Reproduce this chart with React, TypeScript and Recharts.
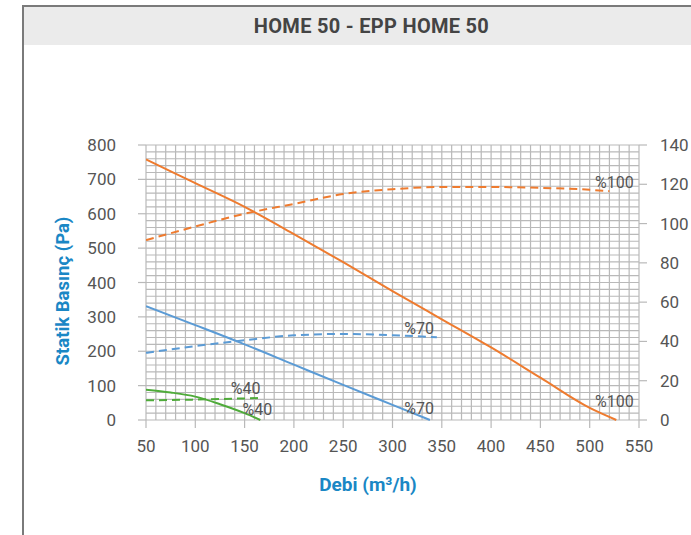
import React from 'react';
import { ComposedChart, Line, XAxis, YAxis, CartesianGrid, ReferenceDot } from 'recharts';

// Debi (m³/h) ticks
const xTicks = [50, 100, 150, 200, 250, 300, 350, 400, 450, 500, 550];
const leftTicks = [0, 100, 200, 300, 400, 500, 600, 700, 800];
const rightTicks = [0, 20, 40, 60, 80, 100, 120, 140];
const gridX = Array.from({ length: 51 }, (_, i) => 50 + i * 10);
const gridY = Array.from({ length: 41 }, (_, i) => i * 20);

// Pressure curves (left axis, Pa)
const press100 = [
  { x: 50, y: 758 }, { x: 100, y: 689 }, { x: 150, y: 620 }, { x: 200, y: 541 },
  { x: 250, y: 459 }, { x: 300, y: 375 }, { x: 350, y: 293 }, { x: 400, y: 211 },
  { x: 450, y: 123 }, { x: 500, y: 35 }, { x: 527, y: 0 },
];
const press70 = [
  { x: 50, y: 331 }, { x: 100, y: 276 }, { x: 150, y: 220 }, { x: 200, y: 161 },
  { x: 250, y: 102 }, { x: 300, y: 44 }, { x: 338, y: 0 },
];
const press40 = [
  { x: 50, y: 88 }, { x: 75, y: 80 }, { x: 100, y: 68 }, { x: 125, y: 46 },
  { x: 150, y: 20 }, { x: 166, y: 0 },
];

// Secondary curves (right axis)
const right100 = [
  { x: 50, y: 91.6 }, { x: 100, y: 98.5 }, { x: 150, y: 105 }, { x: 200, y: 110 },
  { x: 250, y: 115 }, { x: 300, y: 117.5 }, { x: 350, y: 118.6 }, { x: 400, y: 118.6 },
  { x: 450, y: 118.2 }, { x: 500, y: 117.2 }, { x: 520, y: 116.5 },
];
const right70 = [
  { x: 50, y: 34.2 }, { x: 100, y: 37.6 }, { x: 150, y: 40.6 }, { x: 200, y: 43.1 },
  { x: 250, y: 43.8 }, { x: 300, y: 43.2 }, { x: 345, y: 42.1 },
];
const right40 = [
  { x: 50, y: 10 }, { x: 100, y: 10.4 }, { x: 166, y: 11.2 },
];

// Curve labels (positioned in data units, left axis)
const curveLabels = [
  { x: 525, y: 692, text: '%100' },
  { x: 525, y: 55, text: '%100' },
  { x: 327, y: 268, text: '%70' },
  { x: 327, y: 35, text: '%70' },
  { x: 151, y: 93, text: '%40' },
  { x: 163, y: 32, text: '%40' },
];

const ORANGE = '#ee7b2f';
const BLUE = '#5b9bd5';
const GREEN = '#4fab3a';
const AXIS_BLUE = '#1a87c5';
const GRID = '#b9b9b9';
const TICK_FONT = "Roboto, 'DejaVu Sans', sans-serif";
const tickStyle = { fill: '#555', fontSize: 17, fontFamily: TICK_FONT };

const X_DOMAIN = [50, 550];
const Y_DOMAIN = [0, 800];

const vGen = (props: any) => {
  const s = props?.xAxis?.scale;
  if (typeof s === 'function') return gridX.map((v) => s(v));
  const o = props.offset;
  return gridX.map((v) => o.left + ((v - X_DOMAIN[0]) / (X_DOMAIN[1] - X_DOMAIN[0])) * o.width);
};
const hGen = (props: any) => {
  const s = props?.yAxis?.scale;
  if (typeof s === 'function') return gridY.map((v) => s(v));
  const o = props.offset;
  return gridY.map((v) => o.top + o.height - ((v - Y_DOMAIN[0]) / (Y_DOMAIN[1] - Y_DOMAIN[0])) * o.height);
};

export default function App() {
  return (
    <div style={{ position: 'absolute', left: 0, top: 0, width: 691, height: 535, background: '#fff', overflow: 'hidden' }}>
      <div style={{ position: 'absolute', left: 22, top: 5, width: 669, height: 530, borderLeft: '2px solid #7a7a7a', borderTop: '2px solid #7a7a7a', boxSizing: 'border-box' }} />
      <div style={{ position: 'absolute', left: 24, top: 7, width: 667, height: 38, background: '#ebebeb' }} />
      <div style={{ position: 'absolute', left: 24, top: 7, width: 695, height: 38, lineHeight: '38px', textAlign: 'center', fontFamily: TICK_FONT, fontWeight: 700, fontSize: 20, letterSpacing: 0.3, color: '#444' }}>
        HOME 50 - EPP HOME 50
      </div>
      <div style={{ position: 'absolute', left: 0, top: 0 }}>
        <ComposedChart width={691} height={535} margin={{ top: 145, right: 7, bottom: 85, left: 86 }}>
          <CartesianGrid
            xAxisId="x"
            yAxisId="left"
            stroke={GRID}
            strokeWidth={1.2}
            verticalCoordinatesGenerator={vGen}
            horizontalCoordinatesGenerator={hGen}
          />
          <XAxis
            xAxisId="x"
            type="number"
            dataKey="x"
            domain={X_DOMAIN}
            ticks={xTicks}
            allowDataOverflow
            axisLine={false}
            tickLine={{ stroke: GRID, strokeWidth: 1.2 }}
            tickSize={8}
            tickMargin={12}
            tick={tickStyle}
            height={30}
          />
          <YAxis
            yAxisId="left"
            type="number"
            domain={Y_DOMAIN}
            ticks={leftTicks}
            axisLine={false}
            tickLine={{ stroke: GRID, strokeWidth: 1.2 }}
            tickSize={8}
            tickMargin={22}
            tick={tickStyle}
            width={60}
          />
          <YAxis
            yAxisId="right"
            orientation="right"
            type="number"
            domain={[0, 140]}
            ticks={rightTicks}
            axisLine={false}
            tickLine={{ stroke: GRID, strokeWidth: 1.2 }}
            tickSize={8}
            tickMargin={13}
            tick={tickStyle}
            width={45}
          />
          <Line xAxisId="x" yAxisId="right" data={right100} dataKey="y" type="monotone" stroke={ORANGE} strokeWidth={2} strokeDasharray="8 5" dot={false} isAnimationActive={false} />
          <Line xAxisId="x" yAxisId="right" data={right70} dataKey="y" type="monotone" stroke={BLUE} strokeWidth={2} strokeDasharray="8 5" dot={false} isAnimationActive={false} />
          <Line xAxisId="x" yAxisId="right" data={right40} dataKey="y" type="monotone" stroke={GREEN} strokeWidth={2} strokeDasharray="8 5" dot={false} isAnimationActive={false} />
          <Line xAxisId="x" yAxisId="left" data={press100} dataKey="y" type="monotone" stroke={ORANGE} strokeWidth={2} dot={false} isAnimationActive={false} />
          <Line xAxisId="x" yAxisId="left" data={press70} dataKey="y" type="monotone" stroke={BLUE} strokeWidth={2} dot={false} isAnimationActive={false} />
          <Line xAxisId="x" yAxisId="left" data={press40} dataKey="y" type="monotone" stroke={GREEN} strokeWidth={2} dot={false} isAnimationActive={false} />
          {curveLabels.map((l, i) => (
            <ReferenceDot
              key={i}
              xAxisId="x"
              yAxisId="left"
              x={l.x}
              y={l.y}
              r={0}
              fill="none"
              stroke="none"
              label={{ value: l.text, position: 'center', fill: '#555', fontSize: 16, fontFamily: TICK_FONT }}
            />
          ))}
        </ComposedChart>
      </div>
      <div style={{ position: 'absolute', left: 63, top: 291, transform: 'translate(-50%, -50%) rotate(-90deg)', whiteSpace: 'nowrap', fontFamily: TICK_FONT, fontWeight: 700, fontSize: 18.5, color: AXIS_BLUE }}>
        Statik Basınç (Pa)
      </div>
      <div style={{ position: 'absolute', left: 368, top: 484, transform: 'translate(-50%, -50%)', whiteSpace: 'nowrap', fontFamily: TICK_FONT, fontWeight: 700, fontSize: 19, color: AXIS_BLUE }}>
        Debi (m³/h)
      </div>
    </div>
  );
}
